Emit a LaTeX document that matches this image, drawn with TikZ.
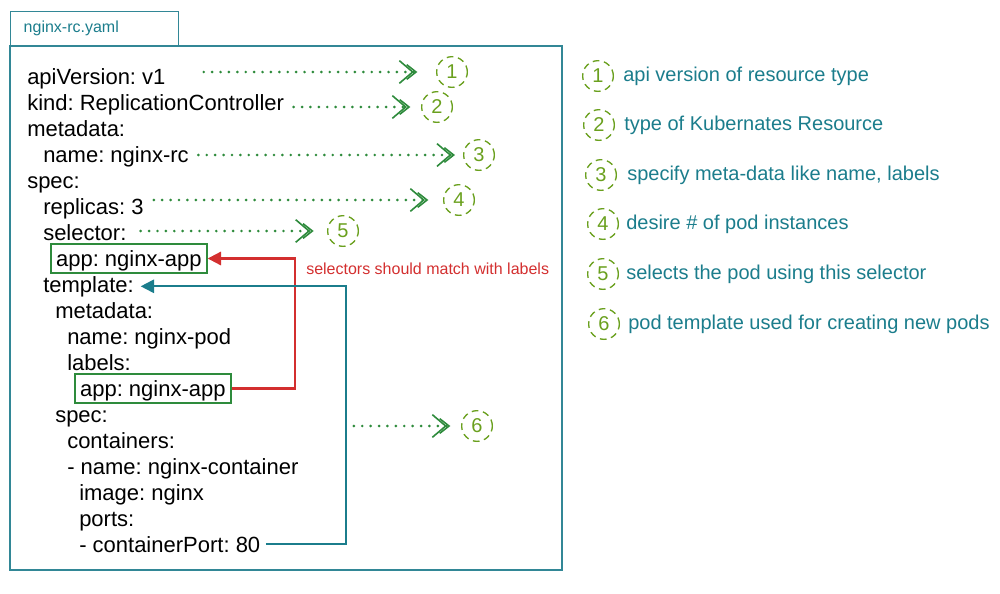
\documentclass[tikz,border=0pt]{standalone}
\usepackage{fontspec}
\setmainfont{Liberation Sans}
\usepackage{tikz}
\usetikzlibrary{arrows.meta}
\frenchspacing

\definecolor{kteal}{RGB}{27,125,140}
\definecolor{kbox}{RGB}{50,135,150}
\definecolor{dgreen}{RGB}{46,139,60}
\definecolor{cgreen}{RGB}{106,160,30}
\definecolor{kred}{RGB}{211,47,47}

\tikzset{
  yaml/.style={anchor=base west, inner xsep=0pt, font=\fontsize{16.5}{19}\selectfont},
  appbox/.style={yaml, draw=dgreen, line width=1.6pt, inner xsep=3.75pt, inner ysep=0pt,
    text height=16.5pt, text depth=5.25pt},
  boxline/.style={draw=kbox, line width=1.1pt},
  tabbox/.style={boxline, anchor=south west, text=kteal, font=\fontsize{12}{14}\selectfont,
    text width=106.5pt, align=left, inner xsep=9.75pt, minimum height=25.5pt},
  numc/.style={circle, draw=cgreen, line width=1pt, dash pattern=on 5pt off 3.5pt,
    minimum size=23pt, inner sep=0pt, text=cgreen, font=\fontsize{15}{18}\selectfont},
  note/.style={anchor=base west, inner sep=0pt, text=kteal, font=\fontsize{15}{18}\selectfont},
  ptr/.style={dgreen, line width=2.2pt, line cap=round, dash pattern=on 0pt off 6.3pt,
    -{Straight Barb[length=10pt,width=17pt,line width=1.2pt,sep=-6pt]Straight Barb[length=7pt,width=11pt,line width=1.2pt]}},
  redarrow/.style={kred, line width=1.6pt, -{Triangle[length=10pt,width=10pt]}},
  tealarrow/.style={kteal, line width=1.4pt, -{Triangle[length=10pt,width=10pt]}},
}

\begin{document}
\begin{tikzpicture}[x=0.75pt,y=-0.75pt]
\useasboundingbox (0,0) rectangle (1000,593);

% file tab and frame
\node[tabbox] (tab) at (10,46) {nginx-rc.yaml};
\draw[boxline] (10,46) rectangle (562,570);

% yaml lines
\node[yaml] (api) at (27,84) {apiVersion: v1};
\node[yaml] (kind) at (27,110) {kind: ReplicationController};
\node[yaml] (meta) at (27,136) {metadata:};
\node[yaml] (mname) at (43,162) {name: nginx-rc};
\node[yaml] (spec) at (27,188) {spec:};
\node[yaml] (reps) at (43,214) {replicas: 3};
\node[yaml] (sel) at (43,240) {selector:};
\node[appbox] (selapp) at (50,266) {app: nginx-app};
\node[yaml] (tmpl) at (43,292) {template:};
\node[yaml] (tmeta) at (55,318) {metadata:};
\node[yaml] (pname) at (67,344) {name: nginx-pod};
\node[yaml] (labels) at (67,370) {labels:};
\node[appbox] (lblapp) at (74,396) {app: nginx-app};
\node[yaml] (pspec) at (55,422) {spec:};
\node[yaml] (ctrs) at (67,448) {containers:};
\node[yaml] (cname) at (67,474) {- name: nginx-container};
\node[yaml] (image) at (79,500) {image: nginx};
\node[yaml] (ports) at (79,526) {ports:};
\node[yaml] (port) at (79,552) {- containerPort: 80};

% selector / labels link
\draw[redarrow] (lblapp.east) -- ++(63,0) |- (selapp.east);
\node[anchor=base west, inner sep=0pt, text=kred, font=\fontsize{12}{14}\selectfont]
  (matchnote) at (306,274) {selectors should match with labels};

% template bracket
\draw[tealarrow] ([xshift=4pt]port.east) -- ++(80,0) coordinate (tplbar) |- ([xshift=5pt]tmpl.east);

% numbered markers
\node[numc] (c1) at (452,72) {1};
\node[numc] (c2) at (437,107) {2};
\node[numc] (c3) at (479,155) {3};
\node[numc] (c4) at (459,200) {4};
\node[numc] (c5) at (343,231) {5};
\node[numc] (c6) at (477,426) {6};

\draw[ptr, shorten <=28.5pt, shorten >=14pt] (api.east |- c1) -- (c1);
\draw[ptr, shorten <=7pt, shorten >=8pt] (kind.east |- c2) -- (c2);
\draw[ptr, shorten <=7pt, shorten >=6pt] (mname.east |- c3) -- (c3);
\draw[ptr, shorten <=7.5pt, shorten >=11pt] (reps.east |- c4) -- (c4);
\draw[ptr, shorten <=10.5pt, shorten >=10pt] (sel.east |- c5) -- (c5);
\draw[ptr, shorten <=6pt, shorten >=8pt] (tplbar |- c6) -- (c6);

% legend
\node[numc] (l1) at (598,76) {1};
\node[numc] (l2) at (599,125) {2};
\node[numc] (l3) at (601,175) {3};
\node[numc] (l4) at (603,224) {4};
\node[numc] (l5) at (603,274) {5};
\node[numc] (l6) at (604,324) {6};
\node[note] (d1) at (623,81) {api version of resource type};
\node[note] (d2) at (624,130) {type of Kubernates Resource};
\node[note] (d3) at (627,180) {specify meta-data like name, labels};
\node[note] (d4) at (626,229) {desire \# of pod instances};
\node[note] (d5) at (626,279) {selects the pod using this selector};
\node[note] (d6) at (628,329) {pod template used for creating new pods};
\end{tikzpicture}
\end{document}
